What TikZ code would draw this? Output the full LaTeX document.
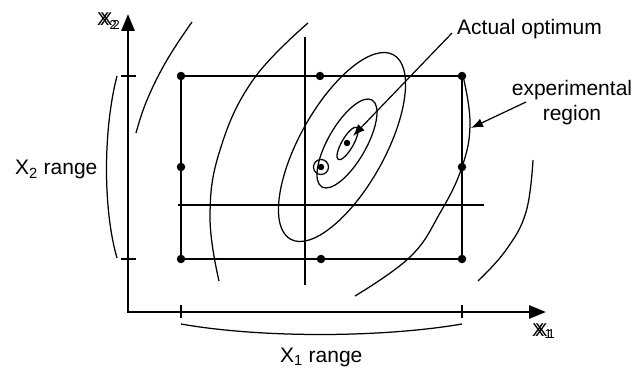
\documentclass[tikz,border=0pt]{standalone}
\usepackage{fontspec}
\setmainfont{Liberation Sans}
\usetikzlibrary{arrows.meta}
\begin{document}
\begin{tikzpicture}[x=1pt,y=1pt,
  thin line/.style={line width=1.25pt},
  axisline/.style={line width=2.8pt},
  dotnode/.style={circle,fill=black,inner sep=0pt,minimum size=8.5pt},
  smalldot/.style={circle,fill=black,inner sep=0pt,minimum size=6.5pt},
  lbl/.style={inner sep=0pt,font=\fontsize{21}{25}\selectfont},
  axlbl/.style={inner sep=0pt,font=\fontsize{18.5}{18.5}\selectfont},
  pointer/.style={line width=1.2pt,-{Latex[length=12pt,width=9pt]}}]
\useasboundingbox (0,0) rectangle (638,-369);
% axes
\coordinate (O) at (128,-312);
\coordinate (ytip) at (128,-14);
\coordinate (xtip) at (546,-312);
\draw[axisline,{Triangle[length=17pt,width=13pt]}-{Triangle[length=17pt,width=13pt]}] (xtip) -- (O) -- (ytip);
% ticks
\coordinate (ty1a) at (121,-76); \coordinate (ty1b) at (136,-76);
\coordinate (ty2a) at (121,-259); \coordinate (ty2b) at (136,-259);
\coordinate (tx1a) at (181,-305); \coordinate (tx1b) at (181,-318);
\coordinate (tx2a) at (462,-305); \coordinate (tx2b) at (462,-318);
\draw[thin line] (ty1a) -- (ty1b) (ty2a) -- (ty2b) (tx1a) -- (tx1b) (tx2a) -- (tx2b);
% design points
\node[dotnode] (p1) at (181,-76) {};
\node[dotnode] (p2) at (320,-76) {};
\node[dotnode] (p3) at (462,-76) {};
\node[dotnode] (p4) at (181,-167) {};
\node[dotnode] (p6) at (462,-167) {};
\node[dotnode] (p7) at (181,-259) {};
\node[dotnode] (p8) at (321,-259) {};
\node[dotnode] (p9) at (462,-259) {};
\draw[thin line] (p1) -- (p2) -- (p3) -- (p6) -- (p9) -- (p8) -- (p7) -- (p4) -- (p1);
% cross lines
\coordinate (v1) at (305,-37); \coordinate (v2) at (305,-285);
\coordinate (h1) at (178,-205); \coordinate (h2) at (484,-205);
\draw[thin line] (v1) -- (v2) (h1) -- (h2);
% contour ellipses
\draw[thin line,rotate around={60.8:(342,-147)}] (342,-147) ellipse[x radius=105.6pt,y radius=42.6pt];
\draw[thin line,rotate around={60:(347,-143.5)}] (347,-143.5) ellipse[x radius=50.2pt,y radius=19pt];
\draw[thin line,rotate around={60:(347.5,-143.5)}] (347.5,-143.5) ellipse[x radius=18.5pt,y radius=5.8pt];
% outer contour arcs
\draw[thin line] plot[smooth,tension=0.7] coordinates {(192,-22) (167,-60) (147,-100) (136,-133)};
\draw[thin line] plot[smooth,tension=0.7] coordinates {(308,-23) (253,-80) (220,-150) (210,-217) (219,-281)};
\draw[thin line] plot[smooth,tension=0.7] coordinates {(355,-296) (410,-257) (440,-213) (462,-167) (470,-123) (463,-76)};
\draw[thin line] plot[smooth,tension=0.7] coordinates {(533,-160) (526,-212) (506,-250) (478,-281)};
% centre and optimum points
\node[smalldot] (opt) at (347,-143) {};
\node[smalldot] (cp) at (321,-167) {};
\draw[thin line] (cp) circle[radius=7.5pt];
% range brackets
\coordinate (b1a) at (181,-324); \coordinate (b1b) at (462,-324);
\draw[thin line] (b1a) .. controls (260,-338) and (380,-338) .. (b1b);
\coordinate (b2a) at (117,-76); \coordinate (b2b) at (117,-258);
\draw[thin line] (b2a) .. controls (103,-130) and (103,-210) .. (b2b);
% labels
\node[lbl,anchor=base west] (ao) at (457,-35) {Actual optimum};
\node[lbl,align=center] (er) at (572,-103) {experimental\\region};
\node[lbl,anchor=base west] (x2r) at (15,-175) {X\textsubscript{2} range};
\node[lbl,anchor=base west] (x1r) at (280,-362) {X\textsubscript{1} range};
\node[axlbl,anchor=base west] (x2ax) at (97,-26) {\rlap{X\textsubscript{2}}\hspace{3pt}X\textsubscript{2}};
\node[axlbl,anchor=base west] (x1ax) at (532,-336) {\rlap{X\textsubscript{1}}\hspace{3pt}X\textsubscript{1}};
% pointers
\coordinate (aoS) at (452,-33);
\coordinate (aoT) at (353,-136);
\draw[pointer] (aoS) -- (aoT);
\coordinate (erS) at (526,-102);
\coordinate (erT) at (471,-128);
\draw[pointer] (erS) -- (erT);
\end{tikzpicture}
\end{document}
